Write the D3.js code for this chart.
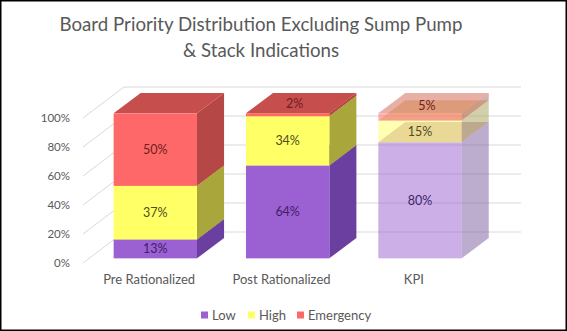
<!DOCTYPE html>
<html>
<head>
<meta charset="utf-8">
<script src="https://cdn.jsdelivr.net/npm/d3@7"></script>
<style>
  html, body { margin: 0; padding: 0; background: #fff; }
  svg { display: block; font-family: Lato, "Open Sans", sans-serif; }
</style>
</head>
<body>
<svg id="chart" width="567" height="331"></svg>
<script>
// Board priority shares (%) per review stage
const categories = ["Pre Rationalized", "Post Rationalized", "KPI"];
const lowValues = [13, 64, 80];
const highValues = [37, 34, 15];
const emergencyValues = [50, 2, 5];
const seriesNames = ["Low", "High", "Emergency"];
const yTicks = [0, 20, 40, 60, 80, 100];
const titleLines = ["Board Priority Distribution Excluding Sump Pump", "& Stack Indications"];
const translucentCategory = "KPI";

const W = 567, H = 331;
const svg = d3.select("#chart");

// face colours for each series: front, side, top, label text
const palette = {
  Low:       { front: "#9b60d2", side: "#6b3f9f", top: "#8553bd", label: "#3e1f68" },
  High:      { front: "#ffff66", side: "#a9a63b", top: "#d6d455", label: "#4f4d18" },
  Emergency: { front: "#ff6868", side: "#b54747", top: "#c64e4c", label: "#6e1e1e" }
};

// oblique 3D projection: depth t in [0,1] shifts points by (DX, DY)
const DX = 41, DY = -31;
const T0 = 0.15, T1 = 0.81;   // front and back planes of the columns

const x = d3.scaleBand().domain(categories).range([83, 480]).paddingInner(0.37).paddingOuter(0.185);
const y = d3.scaleLinear().domain([0, 100]).range([263, 118]);

const rows = categories.map((c, i) => ({
  category: c, Low: lowValues[i], High: highValues[i], Emergency: emergencyValues[i]
}));
const stacked = d3.stack().keys(seriesNames)(rows);

// frame
svg.append("rect").attr("x", 0.75).attr("y", 0.75).attr("width", W - 1.5).attr("height", H - 1.5)
  .attr("fill", "#fff").attr("stroke", "#000").attr("stroke-width", 1.5);

// title
svg.append("text").attr("x", 261).attr("text-anchor", "middle")
  .attr("fill", "#595959").attr("font-size", 18.7)
  .selectAll("tspan").data(titleLines).join("tspan")
  .attr("x", 261).attr("y", (d, i) => 31 + i * 26).text(d => d);

// gridlines: side wall diagonals and back wall horizontals
const grid = svg.append("g").attr("stroke", "#d9d9d9").attr("stroke-width", 1).attr("fill", "none");
const x0 = x.range()[0], x1 = x.range()[1];
grid.selectAll("line.side").data(yTicks).join("line").attr("class", "side")
  .attr("x1", x0).attr("y1", d => y(d)).attr("x2", x0 + DX).attr("y2", d => y(d) + DY);
grid.selectAll("line.back").data(yTicks).join("line").attr("class", "back")
  .attr("x1", x0 + DX).attr("y1", d => y(d) + DY).attr("x2", x1 + DX).attr("y2", d => y(d) + DY);

// value axis labels
svg.append("g").selectAll("text").data(yTicks).join("text")
  .attr("x", 70).attr("y", d => y(d)).attr("dy", "0.35em")
  .attr("text-anchor", "end").attr("fill", "#595959").attr("font-size", 11.5)
  .text(d => d + "%");

// category labels
svg.append("g").selectAll("text").data(categories).join("text")
  .attr("x", d => x(d) + x.bandwidth() / 2).attr("y", 284)
  .attr("text-anchor", "middle").attr("fill", "#595959").attr("font-size", 13)
  .text(d => d);

// columns
const bw = x.bandwidth();
const ddx = (T1 - T0) * DX, ddy = (T1 - T0) * DY;
const bars = svg.append("g");
const labels = [];
categories.forEach((cat, i) => {
  const pale = cat === translucentCategory;
  const g = bars.append("g").attr("fill-opacity", pale ? 0.5 : 1);
  stacked.forEach(layer => {
    const key = layer.key, seg = layer[i];
    const col = palette[key];
    const xl = x(cat) + T0 * DX, xr = xl + bw;
    const yb = y(seg[0]) + T0 * DY, yt = y(seg[1]) + T0 * DY;
    g.append("polygon").attr("fill", pale ? d3.interpolateRgb(col.side, "#9a9a9a")(0.3) : col.side)
      .attr("points", [[xr, yb], [xr + ddx, yb + ddy], [xr + ddx, yt + ddy], [xr, yt]].join(" "));
    g.append("polygon").attr("fill", pale ? d3.interpolateRgb(col.top, "#e07a50")(0.4) : col.top)
      .attr("points", [[xl, yt], [xr, yt], [xr + ddx, yt + ddy], [xl + ddx, yt + ddy]].join(" "));
    g.append("rect").attr("fill", col.front)
      .attr("x", xl).attr("y", yt).attr("width", bw).attr("height", yb - yt);
    const v = seg[1] - seg[0];
    const small = v < 10;
    labels.push({
      text: v + "%",
      x: xl + bw / 2 + (small ? 7 : 0),
      y: (yt + yb) / 2 + (small ? -11 : 0),
      color: col.label
    });
  });
});

svg.append("g").selectAll("text").data(labels).join("text")
  .attr("x", d => d.x).attr("y", d => d.y).attr("dy", "0.35em")
  .attr("text-anchor", "middle").attr("font-size", 12.5).attr("fill", d => d.color)
  .text(d => d.text);

// legend
const legendX = [201, 248, 297];
const legend = svg.append("g").selectAll("g").data(seriesNames).join("g")
  .attr("transform", (d, i) => `translate(${legendX[i]},315)`);
legend.append("rect").attr("x", 0).attr("y", -3.5).attr("width", 7).attr("height", 7)
  .attr("fill", d => palette[d].front);
legend.append("text").attr("x", 11).attr("dy", "0.35em").attr("font-size", 13)
  .attr("fill", "#595959").text(d => d);
</script>
</body>
</html>
